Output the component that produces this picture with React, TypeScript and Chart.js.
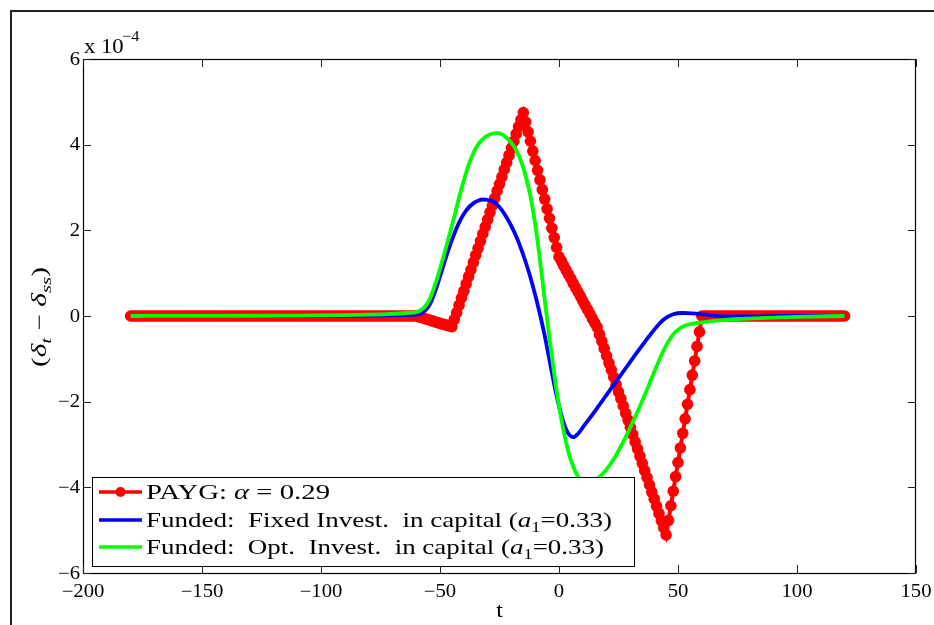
import React, { useEffect, useRef } from "react";
import { Chart, registerables } from "chart.js";

Chart.register(...registerables);

// ---------------- DATA (values in units of 1e-4) ----------------
// PAYG: one marker per period, starting at t = -180
const PAYG_FIRST_T = -180;
const paygValues = [
  // t = -180 .. -60
  0, 0, 0, 0, 0, 0, 0, 0, 0, 0,
  0, 0, 0, 0, 0, 0, 0, 0, 0, 0,
  0, 0, 0, 0, 0, 0, 0, 0, 0, 0,
  0, 0, 0, 0, 0, 0, 0, 0, 0, 0,
  0, 0, 0, 0, 0, 0, 0, 0, 0, 0,
  0, 0, 0, 0, 0, 0, 0, 0, 0, 0,
  0, 0, 0, 0, 0, 0, 0, 0, 0, 0,
  0, 0, 0, 0, 0, 0, 0, 0, 0, 0,
  0, 0, 0, 0, 0, 0, 0, 0, 0, 0,
  0, 0, 0, 0, 0, 0, 0, 0, 0, 0,
  0, 0, 0, 0, 0, 0, 0, 0, 0, 0,
  0, 0, 0, 0, 0, 0, 0, 0, 0, 0,
  0,
  // t = -59 .. -45
  -0.02, -0.03, -0.05, -0.07, -0.08, -0.1, -0.12, -0.14, -0.15, -0.17, -0.19, -0.2, -0.22, -0.23, -0.25,
  // t = -44 .. -15
  -0.08, 0.08, 0.25, 0.42, 0.58, 0.75, 0.92, 1.08, 1.25, 1.42,
  1.58, 1.75, 1.92, 2.08, 2.25, 2.42, 2.58, 2.75, 2.92, 3.08,
  3.25, 3.42, 3.58, 3.75, 3.92, 4.08, 4.25, 4.42, 4.58, 4.75,
  // t = -14 .. 0
  4.53, 4.3, 4.08, 3.85, 3.63, 3.4, 3.18, 2.95, 2.73, 2.5, 2.28, 2.05, 1.83, 1.6, 1.38,
  // t = 1 .. 16
  1.28, 1.17, 1.07, 0.97, 0.87, 0.76, 0.66, 0.56, 0.46, 0.35, 0.25, 0.15, 0.05, -0.06, -0.16, -0.26,
  // t = 17 .. 45
  -0.43, -0.59, -0.76, -0.93, -1.1, -1.26, -1.43, -1.6, -1.77, -1.93,
  -2.1, -2.27, -2.43, -2.6, -2.77, -2.94, -3.1, -3.27, -3.44, -3.61,
  -3.77, -3.94, -4.11, -4.27, -4.44, -4.61, -4.78, -4.94, -5.11,
  // t = 46 .. 59
  -4.77, -4.43, -4.09, -3.75, -3.42, -3.08, -2.74, -2.4, -2.06, -1.72, -1.38, -1.05, -0.71, -0.37,
  // t = 60 .. 120
  0, 0, 0, 0, 0, 0, 0, 0, 0, 0,
  0, 0, 0, 0, 0, 0, 0, 0, 0, 0,
  0, 0, 0, 0, 0, 0, 0, 0, 0, 0,
  0, 0, 0, 0, 0, 0, 0, 0, 0, 0,
  0, 0, 0, 0, 0, 0, 0, 0, 0, 0,
  0, 0, 0, 0, 0, 0, 0, 0, 0, 0,
  0,
];

// Funded: fixed investment in capital
const fixedT = [
  -180, -140, -110, -90, -80, -70, -64, -60,
  -58, -56, -54, -52, -50, -48, -46, -44, -42, -40, -38, -36, -34, -32, -30, -28, -26, -24, -22, -20, -18, -16, -14, -12, -10, -8,
  -6, -4, -2, 0, 2, 4, 6, 8, 10,
  13, 16, 20, 24, 28, 32, 36, 40, 44, 48, 52, 56, 60, 65, 70, 80, 95, 120,
];
const fixedValues = [
  0, 0, 0, 0.005, 0.01, 0.015, 0.025, 0.035,
  0.06, 0.14, 0.3, 0.58, 0.92, 1.28, 1.62, 1.92, 2.18, 2.38, 2.53, 2.63, 2.69, 2.72, 2.71, 2.68, 2.6, 2.47, 2.3, 2.1, 1.86, 1.58, 1.26, 0.9, 0.49, 0.04,
  -0.46, -1.03, -1.6, -2.1, -2.5, -2.75, -2.83, -2.75, -2.6,
  -2.38, -2.15, -1.84, -1.53, -1.22, -0.91, -0.61, -0.32, -0.08, 0.04, 0.07, 0.06, 0.04, 0.01, -0.01, -0.01, 0, 0,
];

// Funded: optimal investment in capital
const optT = [
  -180, -140, -110, -90, -80, -70, -64, -60,
  -58, -56, -54, -52, -50, -48, -46, -44, -42, -40, -38, -36, -34, -32, -30, -28, -26, -24, -22, -20, -18, -16, -14, -12, -10, -8,
  -6, -4, -2, 0, 2, 4, 6, 8, 10, 12, 14,
  17, 20, 24, 28, 32, 36, 40, 44, 48, 52, 56, 60, 66, 75, 85, 100, 120,
];
const optValues = [
  0, 0.005, 0.01, 0.02, 0.03, 0.05, 0.07, 0.09,
  0.14, 0.24, 0.43, 0.74, 1.1, 1.5, 1.9, 2.32, 2.76, 3.16, 3.52, 3.8, 4.0, 4.13, 4.21, 4.26, 4.27, 4.24, 4.16, 4.04, 3.87, 3.62, 3.27, 2.8, 2.14, 1.3,
  0.38, -0.52, -1.36, -2.1, -2.7, -3.18, -3.52, -3.75, -3.87, -3.9, -3.87,
  -3.76, -3.58, -3.25, -2.83, -2.36, -1.85, -1.31, -0.8, -0.43, -0.25, -0.18, -0.15, -0.11, -0.07, -0.05, -0.02, 0,
];

const xTickValues = [-200, -150, -100, -50, 0, 50, 100, 150];
const yTickValues = [-6, -4, -2, 0, 2, 4, 6];
const yExponentBase = "x 10";
const yExponent = "\u22124";
const xTitle = "t";

type Seg = { t: string; it?: boolean; sub?: boolean };
const yTitle: Seg[] = [
  { t: "(" },
  { t: "\u03B4", it: true },
  { t: "t", it: true, sub: true },
  { t: " \u2212 " },
  { t: "\u03B4", it: true },
  { t: "ss", it: true, sub: true },
  { t: ")" },
];
const legendLabels: Seg[][] = [
  [{ t: "PAYG: " }, { t: "\u03B1", it: true }, { t: " = 0.29" }],
  [{ t: "Funded:  Fixed Invest.  in capital (" }, { t: "a", it: true }, { t: "1", sub: true }, { t: "=0.33)" }],
  [{ t: "Funded:  Opt.  Invest.  in capital (" }, { t: "a", it: true }, { t: "1", sub: true }, { t: "=0.33)" }],
];
const seriesColors = ["#ff0000", "#0000ff", "#00ff00"];

// ---------------- drawing helpers ----------------
const SERIF = '"Liberation Serif", "Times New Roman", serif';

function segFont(s: Seg, size: number) {
  return `${s.it ? "italic " : ""}${s.sub ? Math.round(size * 0.7) : size}px ${SERIF}`;
}

function drawRich(ctx: CanvasRenderingContext2D, segs: Seg[], x: number, y: number, size: number, fitWidth: number) {
  ctx.save();
  let w = 0;
  const widths: number[] = [];
  for (const s of segs) {
    ctx.font = segFont(s, size);
    const m = ctx.measureText(s.t).width;
    widths.push(m);
    w += m;
  }
  const k = fitWidth / w;
  ctx.translate(x, y);
  ctx.scale(k, 1);
  ctx.textAlign = "left";
  ctx.textBaseline = "alphabetic";
  let cx = 0;
  segs.forEach((s, i) => {
    ctx.font = segFont(s, size);
    ctx.fillText(s.t, cx, s.sub ? size * 0.22 : 0);
    cx += widths[i];
  });
  ctx.restore();
}

function drawStretched(ctx: CanvasRenderingContext2D, text: string, x: number, y: number, font: string, align: CanvasTextAlign, sx: number, baseline: CanvasTextBaseline = "alphabetic") {
  ctx.save();
  ctx.font = font;
  ctx.textAlign = align;
  ctx.textBaseline = baseline;
  ctx.translate(x, y);
  ctx.scale(sx, 1);
  ctx.fillText(text, 0, 0);
  ctx.restore();
}

const fmt = (v: number) => String(v).replace("-", "\u2212");

const matlabPlugin = {
  id: "matlabAxes",
  afterDatasetsDraw(chart: any) {
    const { ctx, chartArea } = chart;
    const { left, right, top, bottom } = chartArea;
    const xs = chart.scales.x;
    const ys = chart.scales.y;
    ctx.save();
    // axes box
    ctx.strokeStyle = "#000";
    ctx.lineWidth = 1.2;
    ctx.strokeRect(left + 0.5, top + 0.5, right - left - 1, bottom - top);
    // inward ticks
    ctx.lineWidth = 1;
    ctx.strokeStyle = "#222";
    const TL = 8;
    ctx.beginPath();
    for (const v of xTickValues) {
      const px = Math.round(xs.getPixelForValue(v)) + 0.5;
      ctx.moveTo(px, bottom);
      ctx.lineTo(px, bottom - TL);
      ctx.moveTo(px, top);
      ctx.lineTo(px, top + TL);
    }
    for (const v of yTickValues) {
      const py = Math.round(ys.getPixelForValue(v)) + 0.5;
      ctx.moveTo(left, py);
      ctx.lineTo(left + TL, py);
      ctx.moveTo(right, py);
      ctx.lineTo(right - TL, py);
    }
    ctx.stroke();

    // legend
    const lx0 = 92, ly0 = 477, lx1 = 634, ly1 = 566;
    ctx.fillStyle = "#fff";
    ctx.fillRect(lx0, ly0, lx1 - lx0, ly1 - ly0);
    ctx.strokeStyle = "#000";
    ctx.lineWidth = 1;
    ctx.strokeRect(lx0 + 0.5, ly0 + 0.5, lx1 - lx0, ly1 - ly0);
    const rowY = [492, 520, 547];
    const fitW = [184, 466, 458];
    legendLabels.forEach((segs, i) => {
      const cy = rowY[i];
      ctx.strokeStyle = seriesColors[i];
      ctx.lineWidth = 3.5;
      ctx.beginPath();
      ctx.moveTo(99, cy);
      ctx.lineTo(142, cy);
      ctx.stroke();
      if (i === 0) {
        ctx.fillStyle = seriesColors[0];
        ctx.beginPath();
        ctx.arc(120.5, cy, 5, 0, Math.PI * 2);
        ctx.fill();
      }
      ctx.fillStyle = "#000";
      drawRich(ctx, segs, 146, cy + 7, 22, fitW[i]);
    });
    ctx.restore();
  },
  afterDraw(chart: any) {
    const { ctx, chartArea } = chart;
    const { left, right, bottom } = chartArea;
    const xs = chart.scales.x;
    const ys = chart.scales.y;
    ctx.save();
    ctx.fillStyle = "#000";
    const tickFont = `18px ${SERIF}`;
    for (const v of xTickValues) {
      drawStretched(ctx, fmt(v), xs.getPixelForValue(v), 597, tickFont, "center", 1.15);
    }
    for (const v of yTickValues) {
      drawStretched(ctx, fmt(v), left - 3, ys.getPixelForValue(v) + 1, tickFont, "right", 1.15, "middle");
    }
    // exponent label
    drawStretched(ctx, yExponentBase, 84, 53, `21px ${SERIF}`, "left", 1.08);
    drawStretched(ctx, yExponent, 122, 41, `15px ${SERIF}`, "left", 1.1);
    // x title
    drawStretched(ctx, xTitle, (left + right) / 2, bottom + 44, `22px ${SERIF}`, "center", 1.1);
    // y title (rotated)
    ctx.save();
    ctx.translate(46, 316);
    ctx.rotate(-Math.PI / 2);
    drawRich(ctx, yTitle, -51, 0, 21, 100);
    ctx.restore();
    ctx.restore();
  },
};

export default function App() {
  const canvasRef = useRef<HTMLCanvasElement | null>(null);

  useEffect(() => {
    const canvas = canvasRef.current;
    if (!canvas) return;
    const paygData = paygValues.map((v, i) => ({ x: PAYG_FIRST_T + i, y: v }));
    const fixedData = fixedT.map((t, i) => ({ x: t, y: fixedValues[i] }));
    const optData = optT.map((t, i) => ({ x: t, y: optValues[i] }));

    const chart = new Chart(canvas, {
      type: "line",
      data: {
        datasets: [
          {
            label: "PAYG",
            data: paygData,
            borderColor: seriesColors[0],
            backgroundColor: seriesColors[0],
            borderWidth: 4,
            pointRadius: 5.8,
            pointBorderWidth: 0,
            pointBackgroundColor: seriesColors[0],
            pointHoverRadius: 5.8,
            tension: 0,
            order: 2,
          },
          {
            label: "Fixed",
            data: fixedData,
            borderColor: seriesColors[1],
            borderWidth: 3.8,
            pointRadius: 0,
            cubicInterpolationMode: "monotone",
            order: 1,
          },
          {
            label: "Opt",
            data: optData,
            borderColor: seriesColors[2],
            borderWidth: 3.8,
            pointRadius: 0,
            cubicInterpolationMode: "monotone",
            order: 0,
          },
        ],
      },
      options: {
        animation: false,
        responsive: false,
        maintainAspectRatio: false,
        events: [],
        layout: { padding: { left: 0, top: 59, right: 18, bottom: 0 } },
        plugins: { legend: { display: false }, tooltip: { enabled: false } },
        scales: {
          x: {
            type: "linear",
            min: -200,
            max: 150,
            afterBuildTicks: (s: any) => {
              s.ticks = xTickValues.map((v) => ({ value: v }));
            },
            afterFit: (s: any) => {
              s.height = 52;
            },
            grid: { display: false },
            border: { display: false },
            ticks: { display: false },
          },
          y: {
            type: "linear",
            min: -6,
            max: 6,
            afterBuildTicks: (s: any) => {
              s.ticks = yTickValues.map((v) => ({ value: v }));
            },
            afterFit: (s: any) => {
              s.width = 83;
            },
            grid: { display: false },
            border: { display: false },
            ticks: { display: false },
          },
        },
      },
      plugins: [matlabPlugin],
    } as any);
    return () => chart.destroy();
  }, []);

  return (
    <div style={{ position: "fixed", left: 0, top: 0, width: 934, height: 625, overflow: "hidden", background: "#fff" }}>
      <div
        style={{
          position: "absolute",
          left: 10,
          top: 10,
          right: -4,
          bottom: -4,
          borderTop: "2px solid #222",
          borderLeft: "2px solid #222",
        }}
      />
      <canvas ref={canvasRef} width={934} height={625} style={{ position: "absolute", left: 0, top: 0 }} />
    </div>
  );
}
